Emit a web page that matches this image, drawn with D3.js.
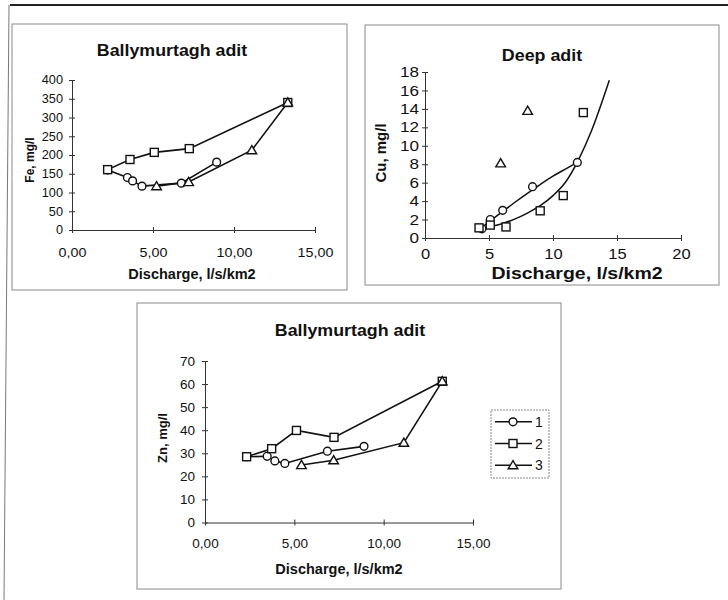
<!DOCTYPE html>
<html>
<head>
<meta charset="utf-8">
<script src="https://d3js.org/d3.v7.min.js"></script>
<style>
  body { margin: 0; background: #fff; }
  svg { display: block; font-family: "Liberation Sans", Arial, sans-serif; }
</style>
</head>
<body>
<div id="chart"></div>
<script>
// Ballymurtagh adit, Fe (mg/l) vs discharge (l/s/km2)
const feQ1 = [2.2, 3.42, 3.74, 4.32, 6.75, 8.93];
const feC1 = [160, 140, 131, 117, 125, 181];
const feQ2 = [2.2, 3.58, 5.08, 7.24, 13.32];
const feC2 = [161, 188, 207, 217, 340];
const feQ3 = [5.22, 7.2, 11.1, 13.32];
const feC3 = [117, 128, 213, 340];

// Deep adit, Cu (mg/l) – markers only, plus two trend curves
const cuQ1 = [4.45, 5.1, 6.07, 8.4, 11.9];
const cuC1 = [1.0, 2.0, 3.0, 5.56, 8.2];
const cuQ2 = [4.22, 5.1, 6.33, 9.0, 10.8, 12.37];
const cuC2 = [1.1, 1.4, 1.2, 2.95, 4.6, 13.6];
const cuQ3 = [5.91, 8.02];
const cuC3 = [8.1, 13.8];
// trend curves
const cuTrend1Q = [4.3, 5.0, 6.0, 7.0, 8.0, 9.0, 10.0, 11.0, 11.9];
const cuTrend1C = [1.0, 1.75, 2.8, 3.85, 4.85, 5.8, 6.7, 7.5, 8.2];
const cuTrend2Q = [4.3, 5.0, 6.0, 7.0, 8.0, 9.0, 10.0, 11.0, 12.0, 13.0, 14.4];
const cuTrend2C = [1.0, 1.2, 1.55, 2.05, 2.7, 3.5, 4.6, 6.1, 8.5, 11.6, 17.1];

// Ballymurtagh adit, Zn (mg/l)
const znQ1 = [2.33, 3.48, 3.91, 4.47, 6.85, 8.9];
const znC1 = [28.5, 28.7, 26.7, 25.6, 30.9, 33.0];
const znQ2 = [2.33, 3.73, 5.12, 7.22, 13.28];
const znC2 = [28.5, 32.0, 39.9, 36.9, 61.2];
const znQ3 = [5.4, 7.2, 11.13, 13.28];
const znC3 = [24.9, 27.0, 34.6, 61.2];

const legendLabels = ["1", "2", "3"];
const markerTypes = ["circle", "square", "triangle"];

const W = 728, H = 600;
const svg = d3.select("#chart").append("svg")
  .attr("width", W).attr("height", H);

const zip = (xs, ys) => xs.map((x, i) => [x, ys[i]]);
const comma = d3.formatLocale({ decimal: ",", thousands: ".", grouping: [3], currency: ["", ""] });

// open marker symbol at (0,0)
function marker(g, type) {
  if (type === "circle") {
    g.append("circle").attr("r", 3.9);
  } else if (type === "square") {
    g.append("rect").attr("x", -4).attr("y", -4).attr("width", 8).attr("height", 8);
  } else {
    g.append("path").attr("d", "M0,-4.6L4.8,3.6L-4.8,3.6Z");
  }
  g.selectAll("*").attr("fill", "#fff").attr("stroke", "#111").attr("stroke-width", 1.4);
}

// bold text, optionally widened (the scan is stretched sideways)
function label(g, t, rotate) {
  const sx = t.sx || 1;
  const tr = rotate ? `translate(${t.x},${t.y}) rotate(-90)` : `translate(${t.x},${t.y}) scale(${sx},1)`;
  return g.append("text")
    .attr("transform", tr)
    .attr("text-anchor", "middle")
    .attr("dy", rotate ? "0.35em" : 0)
    .style("font-size", t.size + "px").style("font-weight", "bold")
    .attr("fill", "#111")
    .text(t.text);
}

function drawPanel(cfg) {
  const g = svg.append("g");

  // panel frame
  g.append("rect")
    .attr("x", cfg.box[0]).attr("y", cfg.box[1])
    .attr("width", cfg.box[2] - cfg.box[0]).attr("height", cfg.box[3] - cfg.box[1])
    .attr("fill", "#fff").attr("stroke", "#8a8a8a").attr("stroke-width", 1);

  const x = d3.scaleLinear().domain(cfg.xDomain).range([cfg.plot[0], cfg.plot[1]]);
  const y = d3.scaleLinear().domain(cfg.yDomain).range([cfg.plot[2], cfg.plot[3]]);
  const sx = cfg.tickSx || 1;

  // axes (ticks cross the axis line, as in the original)
  const xa = g.append("g")
    .attr("transform", `translate(0,${cfg.plot[2]})`)
    .call(d3.axisBottom(x).tickValues(cfg.xTicks).tickSizeOuter(0).tickFormat(cfg.xFmt));
  xa.selectAll(".tick line").attr("y1", -3).attr("y2", 3);
  xa.selectAll(".tick text").attr("y", cfg.xLabelDy).attr("dy", 0)
    .attr("transform", `scale(${sx},1)`)
    .style("font-size", cfg.xTickSize + "px");

  const ya = g.append("g")
    .attr("transform", `translate(${cfg.plot[0]},0)`)
    .call(d3.axisLeft(y).tickValues(cfg.yTicks).tickSizeOuter(0));
  ya.selectAll(".tick line").attr("x1", -3).attr("x2", 3);
  ya.selectAll(".tick text").attr("x", -cfg.yLabelDx / sx)
    .attr("transform", `scale(${sx},1)`)
    .style("font-size", cfg.yTickSize + "px");

  g.selectAll(".domain").attr("stroke", "#333");
  g.selectAll(".tick line").attr("stroke", "#333");
  g.selectAll(".tick text").attr("fill", "#111");

  // titles
  label(g, cfg.title);
  label(g, cfg.xTitle);
  label(g, cfg.yTitle, true);

  const line = d3.line().x(d => x(d[0])).y(d => y(d[1]));

  // trend curves
  (cfg.curves || []).forEach(c => {
    g.append("path")
      .attr("d", line.curve(d3.curveMonotoneX)(c))
      .attr("fill", "none").attr("stroke", "#111").attr("stroke-width", 1.5);
  });
  line.curve(d3.curveLinear);

  // series lines
  if (cfg.joined) {
    cfg.series.forEach(s => {
      g.append("path")
        .attr("d", line(s.pts))
        .attr("fill", "none").attr("stroke", "#111").attr("stroke-width", 1.6);
    });
  }

  // markers
  cfg.series.forEach(s => {
    g.append("g").selectAll("g")
      .data(s.pts)
      .join("g")
      .attr("transform", d => `translate(${x(d[0])},${y(d[1])})`)
      .each(function () { marker(d3.select(this), s.type); });
  });

  return { g, x, y };
}

// outer page lines from the scan
svg.append("line").attr("x1", 10).attr("y1", 5).attr("x2", W).attr("y2", 5)
  .attr("stroke", "#222").attr("stroke-width", 2);
svg.append("line").attr("x1", 9).attr("y1", 5).attr("x2", 4).attr("y2", H)
  .attr("stroke", "#777").attr("stroke-width", 1);

const fmt2 = comma.format(".2f");

// Fe panel
drawPanel({
  box: [12, 24, 347, 290],
  plot: [72, 315, 230, 80],
  xDomain: [0, 15], yDomain: [0, 400],
  xTicks: [0, 5, 10, 15], yTicks: d3.range(0, 401, 50),
  xFmt: fmt2, xLabelDy: 27, xTickSize: 13.5, yLabelDx: 9, yTickSize: 12, tickSx: 1.06,
  title: { text: "Ballymurtagh adit", x: 172, y: 56, size: 16.5, sx: 1.08 },
  xTitle: { text: "Discharge, l/s/km2", x: 192, y: 279, size: 14.5 },
  yTitle: { text: "Fe, mg/l", x: 30, y: 160, size: 12 },
  joined: true,
  series: [
    { type: markerTypes[0], pts: zip(feQ1, feC1) },
    { type: markerTypes[1], pts: zip(feQ2, feC2) },
    { type: markerTypes[2], pts: zip(feQ3, feC3) }
  ]
});

// Cu panel
drawPanel({
  box: [365, 25, 719, 285],
  plot: [425, 681, 238, 72],
  xDomain: [0, 20], yDomain: [0, 18],
  xTicks: [0, 5, 10, 15, 20], yTicks: d3.range(0, 19, 2),
  xFmt: d3.format("d"), xLabelDy: 21, xTickSize: 14, yLabelDx: 6, yTickSize: 14.5, tickSx: 1.18,
  title: { text: "Deep adit", x: 542, y: 61, size: 17, sx: 1.05 },
  xTitle: { text: "Discharge, l/s/km2", x: 577, y: 279, size: 16, sx: 1.22 },
  yTitle: { text: "Cu, mg/l", x: 381, y: 153, size: 15 },
  joined: false,
  curves: [zip(cuTrend1Q, cuTrend1C), zip(cuTrend2Q, cuTrend2C)],
  series: [
    { type: markerTypes[0], pts: zip(cuQ1, cuC1) },
    { type: markerTypes[1], pts: zip(cuQ2, cuC2) },
    { type: markerTypes[2], pts: zip(cuQ3, cuC3) }
  ]
});

// Zn panel
drawPanel({
  box: [137, 303, 561, 589],
  plot: [205, 473, 522.5, 361],
  xDomain: [0, 15], yDomain: [0, 70],
  xTicks: [0, 5, 10, 15], yTicks: d3.range(0, 71, 10),
  xFmt: fmt2, xLabelDy: 25.5, xTickSize: 13, yLabelDx: 10, yTickSize: 13, tickSx: 1.04,
  title: { text: "Ballymurtagh adit", x: 350, y: 336, size: 16.5, sx: 1.08 },
  xTitle: { text: "Discharge, l/s/km2", x: 339, y: 574, size: 14.5 },
  yTitle: { text: "Zn, mg/l", x: 162, y: 438, size: 13 },
  joined: true,
  series: [
    { type: markerTypes[0], pts: zip(znQ1, znC1) },
    { type: markerTypes[1], pts: zip(znQ2, znC2) },
    { type: markerTypes[2], pts: zip(znQ3, znC3) }
  ]
});

// legend of the Zn panel
const leg = svg.append("g");
leg.append("rect")
  .attr("x", 491).attr("y", 410).attr("width", 58).attr("height", 68)
  .attr("fill", "#fff").attr("stroke", "#888").attr("stroke-dasharray", "2,1");
const legRow = d3.scaleBand().domain(legendLabels).range([411, 476]);
legendLabels.forEach((lab, i) => {
  const cy = legRow(lab) + legRow.bandwidth() / 2;
  leg.append("line").attr("x1", 495).attr("x2", 532).attr("y1", cy).attr("y2", cy)
    .attr("stroke", "#111").attr("stroke-width", 1.5);
  marker(leg.append("g").attr("transform", `translate(513,${cy})`), markerTypes[i]);
  leg.append("text").attr("x", 535).attr("y", cy).attr("dy", "0.36em")
    .style("font-size", "14px").attr("fill", "#111").text(lab);
});
</script>
</body>
</html>
